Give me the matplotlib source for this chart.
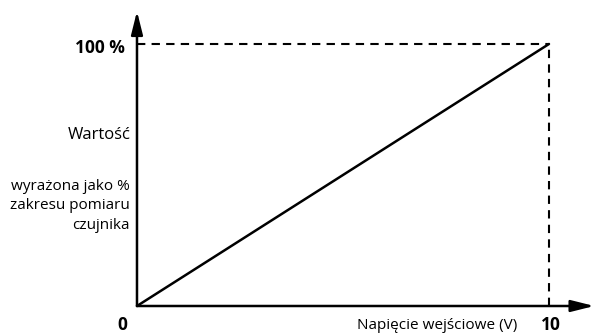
import matplotlib.pyplot as plt

# dane: napięcie wejściowe (V) i wartość (% zakresu)
napiecie = [0, 10]
wartosc = [0, 100]
x_ticks = ['0', '10']
y_top_label = '100 %'

plt.rcParams['font.family'] = ['Open Sans', 'DejaVu Sans']

fig = plt.figure(figsize=(5.95, 3.35), dpi=100)
ax = fig.add_axes([0, 0, 1, 1])
ax.set_xlim(-3.325, 11.117)
ax.set_ylim(-11.07, 116.79)
ax.axis('off')

# osie ze strzałkami
ax.annotate('', xy=(11.1, 0), xytext=(0, 0), annotation_clip=False,
            arrowprops=dict(arrowstyle='-|>,head_length=1.4,head_width=0.35',
                            lw=1.8, color='black', shrinkA=0, shrinkB=0))
ax.annotate('', xy=(0, 112.5), xytext=(0, 0), annotation_clip=False,
            arrowprops=dict(arrowstyle='-|>,head_length=1.4,head_width=0.35',
                            lw=1.8, color='black', shrinkA=0, shrinkB=0))

# linie przerywane
ax.plot([0, napiecie[1]], [wartosc[1], wartosc[1]], ls=(0, (4, 3)), color='black', lw=1.5)
ax.plot([napiecie[1], napiecie[1]], [0, wartosc[1]], ls=(0, (4, 3)), color='black', lw=1.5)

# charakterystyka
ax.plot(napiecie, wartosc, color='black', lw=1.8, solid_capstyle='round')

# opisy
ax.text(-0.3, 98.3, y_top_label, ha='right', va='center', fontsize=12.5, fontweight='bold')
ax.text(-0.36, -7.3, x_ticks[0], ha='center', va='center', fontsize=12.5, fontweight='bold')
ax.text(10.05, -7.3, x_ticks[1], ha='center', va='center', fontsize=12.5, fontweight='bold')
ax.text(7.28, -7.3, 'Napięcie wejściowe (V)', ha='center', va='center', fontsize=11)
ax.text(-0.15, 65.3, 'Wartość', ha='right', va='center', fontsize=12)
ax.text(-0.17, 38.2, 'wyrażona jako %\nzakresu pomiaru\nczujnika', ha='right', va='center',
        fontsize=11, linespacing=1.44)

fig.savefig('out.png', dpi=100)
